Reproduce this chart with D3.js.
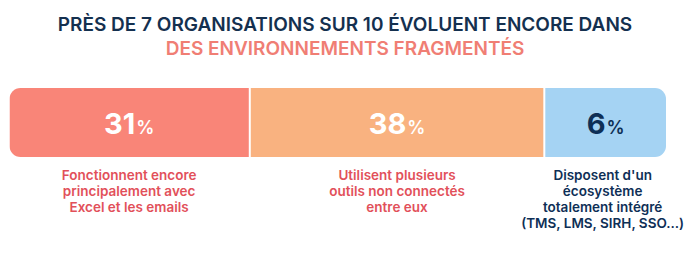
<!DOCTYPE html>
<html>
<head>
<meta charset="utf-8">
<script src="https://cdn.jsdelivr.net/npm/d3@7"></script>
<style>
  html, body { margin: 0; padding: 0; background: #fff; }
  svg text { font-family: "Inter", "Noto Sans", sans-serif; }
</style>
</head>
<body>
<div id="chart"></div>
<script>
const titleLines = ['PRÈS DE 7 ORGANISATIONS SUR 10 ÉVOLUENT ENCORE DANS', 'DES ENVIRONNEMENTS FRAGMENTÉS'];
const values = [31, 38, 6];
const colors = ['#f98578', '#f9b280', '#a5d3f3'];
const valueColors = ['#ffffff', '#ffffff', '#0e2f56'];
const labelColors = ['#e2505a', '#e2505a', '#0e2f56'];
const labels = [
  ['Fonctionnent encore', 'principalement avec', 'Excel et les emails'],
  ['Utilisent plusieurs', 'outils non connectés', 'entre eux'],
  ['Disposent d\'un', 'écosystème', 'totalement intégré', '(TMS, LMS, SIRH, SSO...)']
];

const width = 690, height = 253;
const barTop = 88, barH = 69, gap = 2, radius = 11;
const minShare = 15.7; // small segments get a minimum width so their text fits

const svg = d3.select('#chart').append('svg')
  .attr('width', width)
  .attr('height', height);

// title
svg.selectAll('text.title')
  .data(titleLines)
  .enter()
  .append('text')
  .attr('class', 'title')
  .attr('x', width / 2)
  .attr('y', (d, i) => 31 + i * 24)
  .attr('text-anchor', 'middle')
  .attr('fill', (d, i) => i === 0 ? '#14304f' : '#f07e74')
  .style('font-size', '19px')
  .style('font-weight', 600)
  .text(d => d);

// segment layout
const shown = values.map(v => Math.max(v, minShare));
const starts = d3.cumsum([0].concat(shown)).slice(0, values.length);
const x = d3.scaleLinear()
  .domain([0, d3.sum(shown)])
  .range([9.5, 666]);

const segs = values.map((v, i) => ({
  value: v,
  x0: x(starts[i]) + (i > 0 ? gap / 2 : 0),
  x1: x(starts[i] + shown[i]) - (i < values.length - 1 ? gap / 2 : 0),
  i: i
}));

svg.append('clipPath')
  .attr('id', 'barclip')
  .append('rect')
  .attr('x', x.range()[0])
  .attr('y', barTop)
  .attr('width', x.range()[1] - x.range()[0])
  .attr('height', barH)
  .attr('rx', radius);

const g = svg.append('g').attr('clip-path', 'url(#barclip)');

g.selectAll('rect')
  .data(segs)
  .enter()
  .append('rect')
  .attr('x', d => d.x0)
  .attr('y', barTop)
  .attr('width', d => d.x1 - d.x0)
  .attr('height', barH)
  .attr('fill', d => colors[d.i]);

// value labels
const vt = svg.selectAll('text.value')
  .data(segs)
  .enter()
  .append('text')
  .attr('class', 'value')
  .attr('x', d => (d.x0 + d.x1) / 2)
  .attr('y', 134)
  .attr('text-anchor', 'middle')
  .attr('fill', d => valueColors[d.i])
  .style('font-weight', 700);

vt.append('tspan')
  .style('font-size', '29px')
  .text(d => d.value);
vt.append('tspan')
  .attr('dx', 1)
  .style('font-size', '18px')
  .style('font-weight', 600)
  .text('%');

// descriptions under the bar
const desc = svg.selectAll('text.desc')
  .data(segs)
  .enter()
  .append('text')
  .attr('class', 'desc')
  .attr('text-anchor', 'middle')
  .attr('fill', d => labelColors[d.i])
  .style('font-size', '13.5px')
  .style('font-weight', 600);

desc.selectAll('tspan')
  .data(d => labels[d.i].map(t => ({ t: t, cx: (d.x0 + d.x1) / 2 - (d.i === 2 ? 3 : 0) })))
  .enter()
  .append('tspan')
  .attr('x', d => d.cx)
  .attr('y', (d, j) => 180 + j * 16)
  .text(d => d.t);
</script>
</body>
</html>
